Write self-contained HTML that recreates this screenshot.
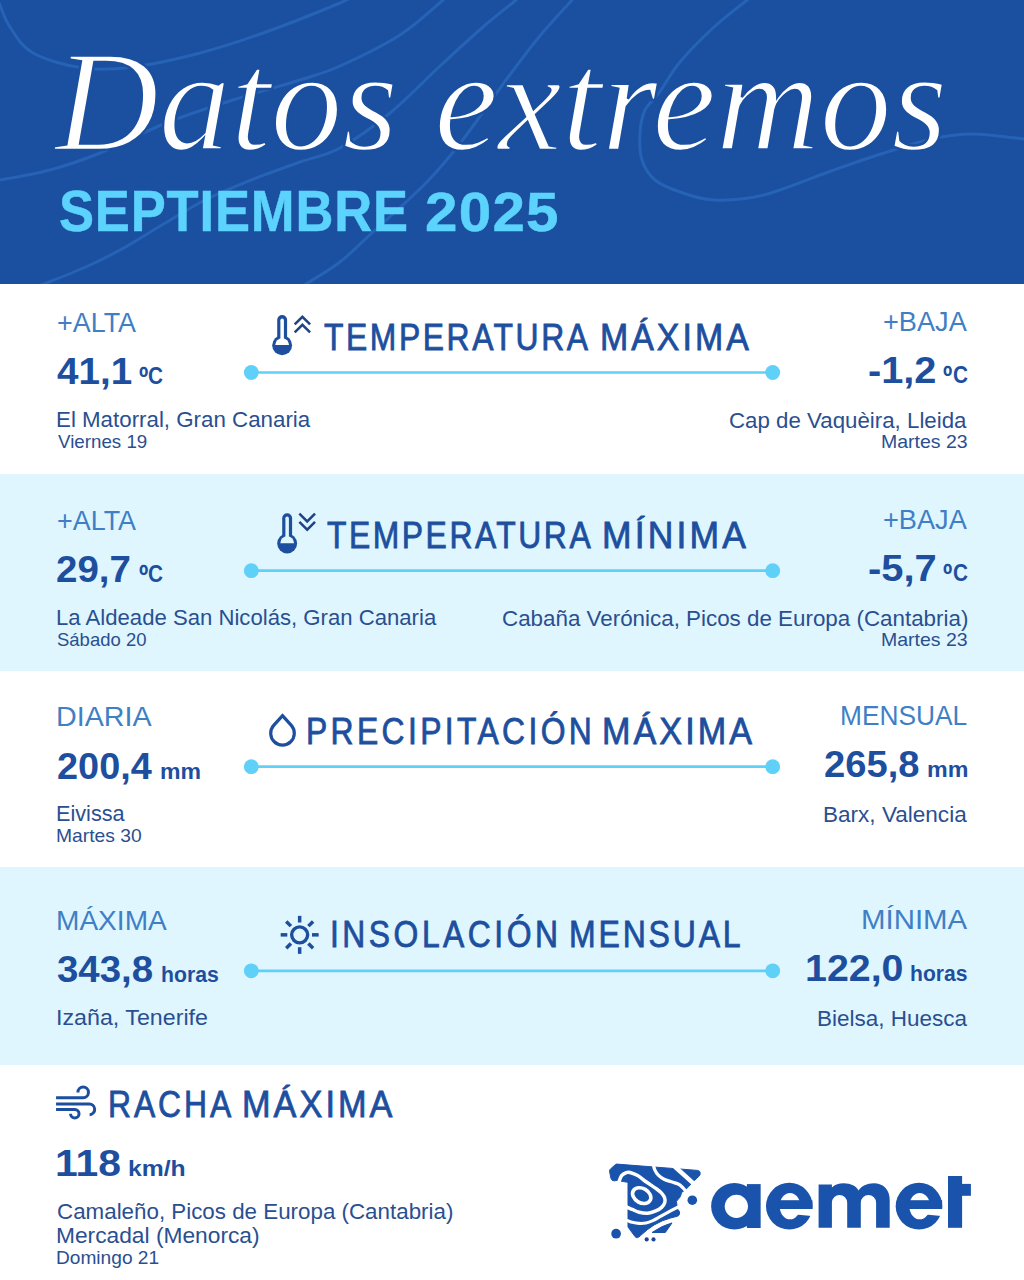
<!DOCTYPE html>
<html lang="es"><head><meta charset="utf-8"><title>Datos extremos</title>
<style>
html,body{margin:0;padding:0;}
body{width:1024px;height:1280px;position:relative;overflow:hidden;background:#fff;font-family:"Liberation Sans",sans-serif;}
.band{position:absolute;left:0;width:1024px;}
.t{position:absolute;white-space:nowrap;line-height:1;transform-origin:0 0;}
svg{position:absolute;left:0;top:0;}
</style></head><body>
<div class="band" style="top:0;height:284px;background:#1b4f9f"></div>
<div class="band" style="top:474px;height:197px;background:#dff6fe"></div>
<div class="band" style="top:867px;height:198px;background:#dff6fe"></div>
<svg width="1024" height="1280" viewBox="0 0 1024 1280">
<g fill="none" stroke="#2663b6" stroke-width="3" clip-path="url(#hc)">
<clipPath id="hc"><rect x="0" y="0" width="1024" height="284"/></clipPath>
<path d="M-2.00,0.00 C-1.67,0.83 -2.00,0.50 0.00,5.00 C2.00,9.50 4.50,19.00 10.00,27.00 C15.50,35.00 20.83,46.17 33.00,53.00 C45.17,59.83 66.33,65.67 83.00,68.00 C99.67,70.33 113.50,69.50 133.00,67.00 C152.50,64.50 177.83,58.83 200.00,53.00 C222.17,47.17 242.67,40.33 266.00,32.00 C289.33,23.67 326.00,8.83 340.00,3.00 C354.00,-2.83 348.33,-2.00 350.00,-3.00"/>
<path d="M-5.00,181.00 C-4.17,180.83 -9.17,181.83 0.00,180.00 C9.17,178.17 33.33,174.50 50.00,170.00 C66.67,165.50 80.67,160.83 100.00,153.00 C119.33,145.17 143.83,131.83 166.00,123.00 C188.17,114.17 210.67,107.17 233.00,100.00 C255.33,92.83 282.17,85.67 300.00,80.00 C317.83,74.33 323.33,73.50 340.00,66.00 C356.67,58.50 382.83,46.00 400.00,35.00 C417.17,24.00 435.17,6.50 443.00,0.00 C450.83,-6.50 446.33,-3.33 447.00,-4.00"/>
<path d="M39.00,286.00 C39.83,285.67 35.83,287.33 44.00,284.00 C52.17,280.67 74.83,271.93 88.00,266.00 C101.17,260.07 112.27,254.27 123.00,248.40 C133.73,242.53 142.62,236.67 152.40,230.80 C162.18,224.93 172.93,218.33 181.70,213.20 C190.47,208.07 196.22,204.38 205.00,200.00 C213.78,195.62 224.62,191.03 234.40,186.90 C244.18,182.77 252.77,179.35 263.70,175.20 C274.63,171.05 287.28,166.53 300.00,162.00 C312.72,157.47 325.00,156.17 340.00,148.00 C355.00,139.83 373.33,126.67 390.00,113.00 C406.67,99.33 424.50,80.33 440.00,66.00 C455.50,51.67 470.33,38.00 483.00,27.00 C495.67,16.00 509.83,5.17 516.00,0.00 C522.17,-5.17 519.33,-3.33 520.00,-4.00"/>
<path d="M303.00,286.00 C303.50,285.67 299.83,288.00 306.00,284.00 C312.17,280.00 328.83,270.67 340.00,262.00 C351.17,253.33 359.17,244.67 373.00,232.00 C386.83,219.33 410.17,198.67 423.00,186.00 C435.83,173.33 441.67,166.00 450.00,156.00 C458.33,146.00 463.67,138.67 473.00,126.00 C482.33,113.33 495.00,94.83 506.00,80.00 C517.00,65.17 528.00,50.33 539.00,37.00 C550.00,23.67 566.00,6.83 572.00,0.00 C578.00,-6.83 574.50,-3.33 575.00,-4.00"/>
<path d="M751.00,-4.00 C750.33,-3.33 753.17,-5.17 747.00,0.00 C740.83,5.17 725.17,16.67 714.00,27.00 C702.83,37.33 689.17,51.00 680.00,62.00 C670.83,73.00 664.83,85.00 659.00,93.00 C653.17,101.00 648.17,103.33 645.00,110.00 C641.83,116.67 640.50,124.67 640.00,133.00 C639.50,141.33 639.50,152.17 642.00,160.00 C644.50,167.83 648.67,174.67 655.00,180.00 C661.33,185.33 670.17,188.67 680.00,192.00 C689.83,195.33 700.00,199.50 714.00,200.00 C728.00,200.50 744.50,199.83 764.00,195.00 C783.50,190.17 811.50,177.83 831.00,171.00 C850.50,164.17 864.17,159.33 881.00,154.00 C897.83,148.67 916.83,142.33 932.00,139.00 C947.17,135.67 956.67,134.00 972.00,134.00 C987.33,134.00 1014.33,138.00 1024.00,139.00 C1033.67,140.00 1029.00,139.83 1030.00,140.00"/>
</g>
<line x1="251.3" y1="372.5" x2="772.7" y2="372.5" stroke="#5fd0f7" stroke-width="2.7"/>
<circle cx="251.3" cy="372.5" r="7.4" fill="#5fd0f7"/><circle cx="772.7" cy="372.5" r="7.4" fill="#5fd0f7"/>
<line x1="251.3" y1="570.7" x2="772.7" y2="570.7" stroke="#5fd0f7" stroke-width="2.7"/>
<circle cx="251.3" cy="570.7" r="7.4" fill="#5fd0f7"/><circle cx="772.7" cy="570.7" r="7.4" fill="#5fd0f7"/>
<line x1="251.3" y1="766.7" x2="772.7" y2="766.7" stroke="#5fd0f7" stroke-width="2.7"/>
<circle cx="251.3" cy="766.7" r="7.4" fill="#5fd0f7"/><circle cx="772.7" cy="766.7" r="7.4" fill="#5fd0f7"/>
<line x1="251.3" y1="970.8" x2="772.7" y2="970.8" stroke="#5fd0f7" stroke-width="2.7"/>
<circle cx="251.3" cy="970.8" r="7.4" fill="#5fd0f7"/><circle cx="772.7" cy="970.8" r="7.4" fill="#5fd0f7"/>
<g><rect x="277.20" y="315.00" width="9.9" height="28" rx="4.95" fill="#1d4f9e"/><circle cx="282.15" cy="345.30" r="9.95" fill="#1d4f9e"/><rect x="280.40" y="318.40" width="3.5" height="23" rx="1.75" fill="#ffffff"/><path d="M275.25,345.05 A6.9,6.9 0 0 1 289.05,345.05 Z" fill="#ffffff"/></g>
<g><rect x="282.20" y="513.20" width="9.9" height="28" rx="4.95" fill="#1d4f9e"/><circle cx="287.15" cy="543.50" r="9.95" fill="#1d4f9e"/><rect x="285.40" y="516.60" width="3.5" height="23" rx="1.75" fill="#dff6fe"/><path d="M280.25,543.25 A6.9,6.9 0 0 1 294.05,543.25 Z" fill="#dff6fe"/></g>
<g fill="none" stroke="#1f4388" stroke-width="2.5"><path d="M294.7,324.4 L302.4,316.75 L310.1,324.4"/><path d="M294.7,332.45 L302.4,324.8 L310.1,332.45"/></g>
<g fill="none" stroke="#1f4388" stroke-width="2.5"><path d="M299.35,513.7 L307.2,521.5 L315.05,513.7"/><path d="M299.35,521.9 L307.2,529.7 L315.05,521.9"/></g>
<path d="M282.5,715.6 L291.3,725.4 A11.8,11.8 0 1 1 273.7,725.4 Z" fill="none" stroke="#1d4f9e" stroke-width="3.2" stroke-linejoin="miter"/>
<g stroke="#1d4f9e" fill="none"><circle cx="299.66" cy="934.85" r="8" stroke-width="3.4"/><line x1="312.01" y1="934.85" x2="318.66" y2="934.85" stroke-width="3.5"/><line x1="308.39" y1="943.58" x2="313.10" y2="948.29" stroke-width="3.5"/><line x1="299.66" y1="947.20" x2="299.66" y2="953.85" stroke-width="3.5"/><line x1="290.93" y1="943.58" x2="286.22" y2="948.29" stroke-width="3.5"/><line x1="287.31" y1="934.85" x2="280.66" y2="934.85" stroke-width="3.5"/><line x1="290.93" y1="926.12" x2="286.22" y2="921.41" stroke-width="3.5"/><line x1="299.66" y1="922.50" x2="299.66" y2="915.85" stroke-width="3.5"/><line x1="308.39" y1="926.12" x2="313.10" y2="921.41" stroke-width="3.5"/></g>
<g fill="none" stroke="#1d4f9e" stroke-width="3"><path d="M56.06,1097.64 H83.18 a5.26,5.26 0 1 0 -5.26,-5.26"/><path d="M56.06,1103.93 H88.98 A5.37,5.37 0 0 1 89.62,1114.67"/><path d="M56.06,1109.57 H74.8 a4.24,4.24 0 1 1 -4.24,4.24"/></g>
<g id="logo">
<path d="M616.9,1164.1 L697.6,1170.4 Q700.2,1170.8 700.2,1173 Q700.2,1175 699.3,1175.9 L694.4,1180.6 L685.7,1189.6 L681.6,1192.5 L680.4,1196.6 L676.5,1201.3 L676.9,1205 L677.8,1209.4 L679.3,1211.3 Q680,1213 679.3,1214.6 Q678.6,1216 677.2,1216.3 L670.6,1218 L662.4,1220.8 L654.2,1224.9 L647.3,1229.7 L640.5,1235.6 Q637.2,1239.2 635,1236.6 L628,1227 L628,1182.3 L623.3,1181.6 L617,1180.3 Q614.3,1181.3 612.5,1180.5 Q611.1,1179.8 610.9,1178 L609.5,1171.2 Q609.4,1170 610.3,1169.2 L615.4,1164.6 Q616,1164 616.9,1164.1 Z" fill="#1a53ab" stroke="#1a53ab" stroke-width="1" stroke-linejoin="round"/>
<path d="M652,1232.5 Q662,1225.6 672,1222.9 L665.3,1232.5 Z" fill="#1a53ab" stroke="#1a53ab" stroke-width="1" stroke-linejoin="round"/>
<path d="M617.20,1186.00 C617.53,1185.18 618.47,1182.83 619.20,1181.10 C619.93,1179.37 620.42,1177.02 621.60,1175.60 C622.78,1174.18 624.90,1173.12 626.30,1172.60 C627.70,1172.08 628.12,1172.02 630.00,1172.50 C631.88,1172.98 634.87,1173.92 637.60,1175.50 C640.33,1177.08 643.37,1179.85 646.40,1182.00 C649.43,1184.15 653.27,1186.55 655.80,1188.40 C658.33,1190.25 660.13,1191.53 661.60,1193.10 C663.07,1194.67 664.07,1196.23 664.60,1197.80 C665.13,1199.37 665.30,1200.90 664.80,1202.50 C664.30,1204.10 663.10,1206.00 661.60,1207.40 C660.10,1208.80 658.13,1209.93 655.80,1210.90 C653.47,1211.87 650.38,1212.98 647.60,1213.20 C644.82,1213.42 641.65,1212.83 639.10,1212.20 C636.55,1211.57 634.23,1210.22 632.30,1209.40 C630.37,1208.58 628.88,1207.87 627.50,1207.30 C626.12,1206.73 624.58,1206.22 624.00,1206.00" fill="none" stroke="#ffffff" stroke-width="3.5"/>
<ellipse cx="641.7" cy="1195.6" rx="9.7" ry="7.2" transform="rotate(30 641.7 1195.6)" fill="none" stroke="#ffffff" stroke-width="3.6"/>
<path d="M653.00,1161.00 C653.08,1161.67 653.20,1163.52 653.50,1165.00 C653.80,1166.48 654.00,1168.20 654.80,1169.90 C655.60,1171.60 656.75,1173.63 658.30,1175.20 C659.85,1176.77 661.95,1178.20 664.10,1179.30 C666.25,1180.40 668.85,1181.02 671.20,1181.80 C673.55,1182.58 676.27,1183.03 678.20,1184.00 C680.13,1184.97 681.55,1186.43 682.80,1187.60 C684.05,1188.77 685.00,1190.02 685.70,1191.00 C686.40,1191.98 686.78,1193.08 687.00,1193.50" fill="none" stroke="#ffffff" stroke-width="3.3"/>
<path d="M673,1165 L694.8,1184.6" fill="none" stroke="#ffffff" stroke-width="4.4"/>
<path d="M622.00,1218.60 C622.92,1218.93 625.78,1219.98 627.50,1220.60 C629.22,1221.22 630.37,1221.83 632.30,1222.30 C634.23,1222.77 636.82,1223.28 639.10,1223.40 C641.38,1223.52 643.72,1223.47 646.00,1223.00 C648.28,1222.53 650.30,1221.73 652.80,1220.60 C655.30,1219.47 658.27,1217.68 661.00,1216.20 C663.73,1214.72 666.47,1213.18 669.20,1211.70 C671.93,1210.22 674.93,1208.62 677.40,1207.30 C679.87,1205.98 682.90,1204.38 684.00,1203.80" fill="none" stroke="#ffffff" stroke-width="3.1"/>
<circle cx="692.3" cy="1200.2" r="4.8" fill="#1a53ab"/><circle cx="616.1" cy="1233.7" r="4.85" fill="#1a53ab"/><circle cx="646.7" cy="1239.4" r="2.1" fill="#1f4590"/><circle cx="653.5" cy="1239.4" r="2.1" fill="#1f4590"/>
<circle cx="734.45" cy="1206.2" r="23.3" fill="#1a53ab"/><rect x="746.9" y="1184.1" width="13.75" height="43.9" fill="#1a53ab"/><circle cx="736.35" cy="1206.35" r="11.6" fill="#ffffff"/>
<circle cx="789.3" cy="1206.15" r="23.3" fill="#1a53ab"/><ellipse cx="790.0" cy="1206.15" rx="10.3" ry="13.2" fill="#ffffff"/><path d="M793.3,1209 H815.3 V1217.5 L811.5999999999999,1216 L798.6999999999999,1214.8 L793.3,1214.8 Z" fill="#ffffff"/><rect x="778.3" y="1200.2" width="34.1" height="8.8" fill="#1a53ab"/>
<path d="M818.6,1227.8 V1184.45 H831.9 V1187.4 C835,1184.6 839,1183.3 843.5,1183.3 C851,1183.3 856.3,1186.3 858.6,1190.6 C861.2,1186.2 867,1183.3 873.7,1183.3 C883.5,1183.3 889.7,1189.8 889.7,1200 V1227.8 H876.1 V1202.65 A7.65,7.65 0 0 0 860.8,1202.65 V1227.8 H847.2 V1202.65 A7.65,7.65 0 0 0 831.9,1202.65 V1227.8 Z" fill="#1a53ab"/>
<circle cx="919" cy="1206.15" r="23.3" fill="#1a53ab"/><ellipse cx="919.7" cy="1206.15" rx="10.3" ry="13.2" fill="#ffffff"/><path d="M923,1209 H945 V1217.5 L941.3,1216 L928.4,1214.8 L923,1214.8 Z" fill="#ffffff"/><rect x="908" y="1200.2" width="34.1" height="8.8" fill="#1a53ab"/>
<rect x="948" y="1176" width="14.1" height="51.8" fill="#1a53ab"/><rect x="948" y="1183.9" width="22.9" height="11.9" fill="#1a53ab"/>
</g>
</svg>
<div class="t" style="left:55.00px;top:29.00px;font-size:145px;color:#ffffff;font-family:'Liberation Serif',serif;font-style:italic;-webkit-text-stroke:2.4px #1b4f9f;transform:scaleX(0.9909);">Datos extremos</div>
<div class="t" style="left:59.00px;top:184.00px;font-size:56.5px;color:#5cd3fc;font-weight:700;-webkit-text-stroke:0.5px #5cd3fc;letter-spacing:0.884px;transform:scaleX(0.9300);">SEPTIEMBRE</div>
<div class="t" style="left:425.00px;top:185.00px;font-size:55px;color:#5cd3fc;font-weight:700;-webkit-text-stroke:0.5px #5cd3fc;letter-spacing:1.200px;transform:scaleX(1.0603);">2025</div>
<div class="t" style="left:57.00px;top:308.00px;font-size:28.3px;color:#3f7fc6;transform:scaleX(0.9513);">+ALTA</div>
<div class="t" style="left:57.00px;top:353.00px;font-size:37px;color:#1d4f9e;font-weight:700;transform:scaleX(1.0437);">41,1</div>
<div class="t" style="left:139.00px;top:362.40px;font-size:31px;color:#1d4f9e;font-weight:700;transform:scaleX(0.8113);">º</div>
<div class="t" style="left:148.00px;top:365.00px;font-size:23.6px;color:#1d4f9e;font-weight:700;transform:scaleX(0.8798);">C</div>
<div class="t" style="left:56.00px;top:409.00px;font-size:22.4px;color:#2a4f90;transform:scaleX(0.9965);">El Matorral, Gran Canaria</div>
<div class="t" style="left:58.00px;top:432.50px;font-size:18.6px;color:#2a4f90;transform:scaleX(1.0078);">Viernes 19</div>
<div class="t" style="left:324.00px;top:320.00px;font-size:36.2px;color:#1d4f9e;-webkit-text-stroke:0.8px #1d4f9e;letter-spacing:2.925px;transform:scaleX(0.8800);">TEMPERATURA</div>
<div class="t" style="left:600.00px;top:320.00px;font-size:36.2px;color:#1d4f9e;-webkit-text-stroke:0.8px #1d4f9e;letter-spacing:3.200px;transform:scaleX(0.9370);">MÁXIMA</div>
<div class="t" style="left:883.00px;top:307.00px;font-size:28.3px;color:#3f7fc6;transform:scaleX(0.9599);">+BAJA</div>
<div class="t" style="left:868.00px;top:352.00px;font-size:37px;color:#1d4f9e;font-weight:700;transform:scaleX(1.0731);">-1,2</div>
<div class="t" style="left:943.00px;top:361.40px;font-size:31px;color:#1d4f9e;font-weight:700;transform:scaleX(0.8113);">º</div>
<div class="t" style="left:953.00px;top:364.00px;font-size:23.6px;color:#1d4f9e;font-weight:700;transform:scaleX(0.8798);">C</div>
<div class="t" style="left:729.00px;top:409.50px;font-size:22.4px;color:#2a4f90;transform:scaleX(0.9954);">Cap de Vaquèira, Lleida</div>
<div class="t" style="left:881.00px;top:433.00px;font-size:18.6px;color:#2a4f90;transform:scaleX(1.0475);">Martes 23</div>
<div class="t" style="left:57.00px;top:506.00px;font-size:28.3px;color:#3f7fc6;transform:scaleX(0.9513);">+ALTA</div>
<div class="t" style="left:56.00px;top:551.00px;font-size:37px;color:#1d4f9e;font-weight:700;transform:scaleX(1.0398);">29,7</div>
<div class="t" style="left:139.00px;top:560.40px;font-size:31px;color:#1d4f9e;font-weight:700;transform:scaleX(0.8113);">º</div>
<div class="t" style="left:148.00px;top:563.00px;font-size:23.6px;color:#1d4f9e;font-weight:700;transform:scaleX(0.8798);">C</div>
<div class="t" style="left:56.00px;top:607.00px;font-size:22.4px;color:#2a4f90;transform:scaleX(0.9886);">La Aldeade San Nicolás, Gran Canaria</div>
<div class="t" style="left:57.00px;top:630.50px;font-size:18.6px;color:#2a4f90;transform:scaleX(0.9945);">Sábado 20</div>
<div class="t" style="left:327.00px;top:518.00px;font-size:36.2px;color:#1d4f9e;-webkit-text-stroke:0.8px #1d4f9e;letter-spacing:2.882px;transform:scaleX(0.8800);">TEMPERATURA</div>
<div class="t" style="left:602.00px;top:518.00px;font-size:36.2px;color:#1d4f9e;-webkit-text-stroke:0.8px #1d4f9e;letter-spacing:3.200px;transform:scaleX(0.9805);">MÍNIMA</div>
<div class="t" style="left:883.00px;top:505.00px;font-size:28.3px;color:#3f7fc6;transform:scaleX(0.9599);">+BAJA</div>
<div class="t" style="left:868.00px;top:550.00px;font-size:37px;color:#1d4f9e;font-weight:700;transform:scaleX(1.0777);">-5,7</div>
<div class="t" style="left:943.00px;top:559.40px;font-size:31px;color:#1d4f9e;font-weight:700;transform:scaleX(0.8113);">º</div>
<div class="t" style="left:953.00px;top:562.00px;font-size:23.6px;color:#1d4f9e;font-weight:700;transform:scaleX(0.8798);">C</div>
<div class="t" style="left:502.00px;top:607.50px;font-size:22.4px;color:#2a4f90;transform:scaleX(0.9991);">Cabaña Verónica, Picos de Europa (Cantabria)</div>
<div class="t" style="left:881.00px;top:631.00px;font-size:18.6px;color:#2a4f90;transform:scaleX(1.0475);">Martes 23</div>
<div class="t" style="left:56.00px;top:702.00px;font-size:28.3px;color:#3f7fc6;transform:scaleX(1.0132);">DIARIA</div>
<div class="t" style="left:57.00px;top:747.60px;font-size:37px;color:#1d4f9e;font-weight:700;transform:scaleX(1.0237);">200,4</div>
<div class="t" style="left:160.00px;top:761.60px;font-size:21.4px;color:#1d4f9e;font-weight:700;transform:scaleX(1.0782);">mm</div>
<div class="t" style="left:56.00px;top:803.00px;font-size:22.4px;color:#2a4f90;transform:scaleX(0.9673);">Eivissa</div>
<div class="t" style="left:56.00px;top:826.50px;font-size:18.6px;color:#2a4f90;transform:scaleX(1.0356);">Martes 30</div>
<div class="t" style="left:306.00px;top:714.00px;font-size:36.2px;color:#1d4f9e;-webkit-text-stroke:0.8px #1d4f9e;letter-spacing:3.830px;transform:scaleX(0.8800);">PRECIPITACIÓN</div>
<div class="t" style="left:602.00px;top:714.00px;font-size:36.2px;color:#1d4f9e;-webkit-text-stroke:0.8px #1d4f9e;letter-spacing:3.200px;transform:scaleX(0.9446);">MÁXIMA</div>
<div class="t" style="left:840.00px;top:701.00px;font-size:28.3px;color:#3f7fc6;transform:scaleX(0.9292);">MENSUAL</div>
<div class="t" style="left:824.00px;top:746.00px;font-size:37px;color:#1d4f9e;font-weight:700;transform:scaleX(1.0309);">265,8</div>
<div class="t" style="left:927.00px;top:760.00px;font-size:21.4px;color:#1d4f9e;font-weight:700;transform:scaleX(1.0879);">mm</div>
<div class="t" style="left:823.00px;top:804.00px;font-size:22.4px;color:#2a4f90;transform:scaleX(1.0068);">Barx, Valencia</div>
<div class="t" style="left:56.00px;top:906.00px;font-size:28.3px;color:#3f7fc6;transform:scaleX(0.9923);">MÁXIMA</div>
<div class="t" style="left:57.00px;top:951.00px;font-size:37px;color:#1d4f9e;font-weight:700;transform:scaleX(1.0380);">343,8</div>
<div class="t" style="left:161.00px;top:965.00px;font-size:21.4px;color:#1d4f9e;font-weight:700;transform:scaleX(0.9926);">horas</div>
<div class="t" style="left:56.00px;top:1007.00px;font-size:22.4px;color:#2a4f90;transform:scaleX(1.0371);">Izaña, Tenerife</div>
<div class="t" style="left:330.00px;top:917.00px;font-size:36.2px;color:#1d4f9e;-webkit-text-stroke:0.8px #1d4f9e;letter-spacing:3.987px;transform:scaleX(0.8800);">INSOLACIÓN</div>
<div class="t" style="left:569.00px;top:917.00px;font-size:36.2px;color:#1d4f9e;-webkit-text-stroke:0.8px #1d4f9e;letter-spacing:3.200px;transform:scaleX(0.8839);">MENSUAL</div>
<div class="t" style="left:861.00px;top:905.00px;font-size:28.3px;color:#3f7fc6;transform:scaleX(1.0387);">MÍNIMA</div>
<div class="t" style="left:805.00px;top:950.00px;font-size:37px;color:#1d4f9e;font-weight:700;transform:scaleX(1.0631);">122,0</div>
<div class="t" style="left:910.00px;top:964.00px;font-size:21.4px;color:#1d4f9e;font-weight:700;transform:scaleX(0.9854);">horas</div>
<div class="t" style="left:817.00px;top:1007.50px;font-size:22.4px;color:#2a4f90;transform:scaleX(1.0037);">Bielsa, Huesca</div>
<div class="t" style="left:108.00px;top:1086.50px;font-size:36.2px;color:#1d4f9e;-webkit-text-stroke:0.8px #1d4f9e;letter-spacing:3.323px;transform:scaleX(0.8800);">RACHA</div>
<div class="t" style="left:242.00px;top:1086.50px;font-size:36.2px;color:#1d4f9e;-webkit-text-stroke:0.8px #1d4f9e;letter-spacing:3.200px;transform:scaleX(0.9476);">MÁXIMA</div>
<div class="t" style="left:55.00px;top:1145.00px;font-size:37px;color:#1d4f9e;font-weight:700;transform:scaleX(1.1059);">118</div>
<div class="t" style="left:128.00px;top:1158.00px;font-size:22.6px;color:#1d4f9e;font-weight:700;transform:scaleX(1.0942);">km/h</div>
<div class="t" style="left:57.00px;top:1200.50px;font-size:22.4px;color:#2a4f90;transform:scaleX(0.9983);">Camaleño, Picos de Europa (Cantabria)</div>
<div class="t" style="left:56.00px;top:1225.00px;font-size:22.4px;color:#2a4f90;transform:scaleX(1.0162);">Mercadal (Menorca)</div>
<div class="t" style="left:56.00px;top:1248.50px;font-size:18.6px;color:#2a4f90;transform:scaleX(1.0283);">Domingo 21</div>
</body></html>
